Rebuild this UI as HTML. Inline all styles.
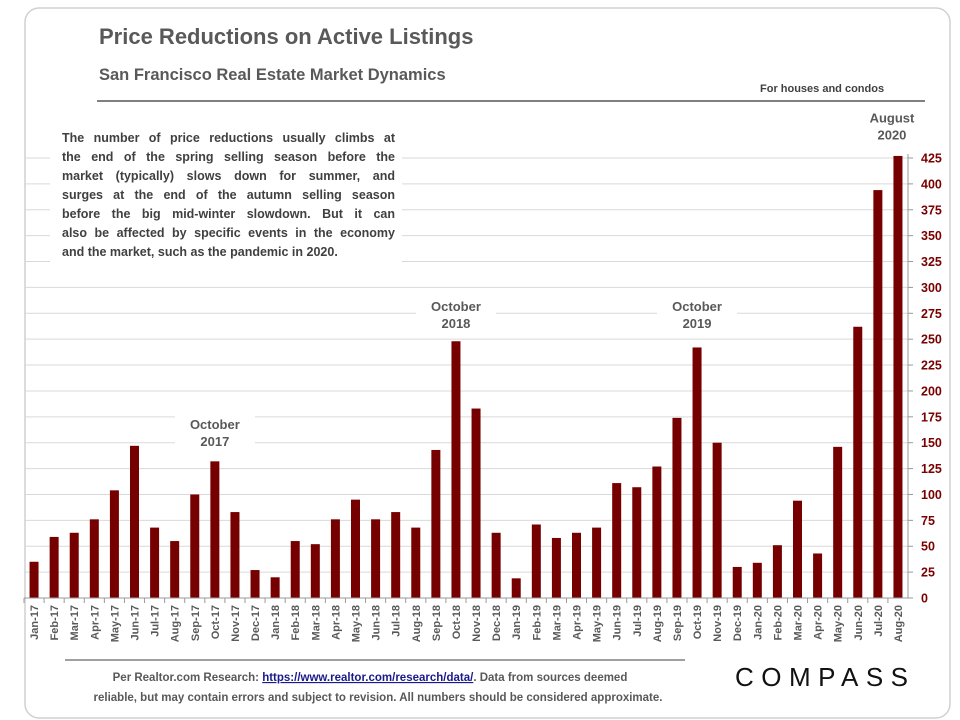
<!DOCTYPE html>
<html><head><meta charset="utf-8"><style>
body{margin:0;background:#fff;font-family:"Liberation Sans",sans-serif;}
#wrap{position:relative;width:960px;height:720px;overflow:hidden;}
#note{position:absolute;left:62px;top:129px;width:333px;font-size:12.5px;font-weight:bold;color:#404040;line-height:19px;}
#note div{text-align:justify;text-align-last:justify;white-space:nowrap;}
#note div.last{text-align-last:left;}
</style></head><body>
<div id="wrap">
<svg id="chart" width="960" height="720" style="position:absolute;left:0;top:0">
<rect x="25" y="8" width="925" height="710" rx="14" fill="none" stroke="#d0d0d0" stroke-width="1.5"/>
<text x="99" y="44" font-size="22" font-weight="bold" fill="#595959">Price Reductions on Active Listings</text>
<text x="99" y="80" font-size="16.5" font-weight="bold" fill="#595959">San Francisco Real Estate Market Dynamics</text>
<text x="760" y="92" font-size="11" font-weight="bold" fill="#404040">For houses and condos</text>
<line x1="97" y1="101" x2="925" y2="101" stroke="#808080" stroke-width="2"/>
<g id="grid"></g><g id="bars"></g><g id="axes"></g>
<rect x="50" y="123" width="352" height="142" fill="#fff"/>
<g id="annos"></g>
<line x1="65" y1="660" x2="685" y2="660" stroke="#808080" stroke-width="1.5"/>
<text x="370" y="681" font-size="11.5" font-weight="bold" fill="#595959" text-anchor="middle">Per Realtor.com Research:  <tspan fill="#1a1a8c" text-decoration="underline">https://www.realtor.com/research/data/</tspan>. Data from sources deemed</text>
<text x="378" y="701" font-size="11.5" font-weight="bold" fill="#595959" text-anchor="middle">reliable, but may contain errors and subject to revision. All numbers should be considered approximate.</text>
<text x="735" y="686" font-size="26" fill="#111" textLength="173" lengthAdjust="spacing">COMPASS</text>
</svg>
<div id="note">
<div>The number of price reductions usually climbs at</div>
<div>the end of the spring selling season before the</div>
<div>market (typically) slows down for summer, and</div>
<div>surges at the end of the autumn selling season</div>
<div>before the big mid-winter slowdown. But it can</div>
<div>also be affected by specific events in the economy</div>
<div class="last">and the market, such as the pandemic in 2020.</div>
</div>
</div>
<script>
const categories=["Jan-17","Feb-17","Mar-17","Apr-17","May-17","Jun-17","Jul-17","Aug-17","Sep-17","Oct-17","Nov-17","Dec-17","Jan-18","Feb-18","Mar-18","Apr-18","May-18","Jun-18","Jul-18","Aug-18","Sep-18","Oct-18","Nov-18","Dec-18","Jan-19","Feb-19","Mar-19","Apr-19","May-19","Jun-19","Jul-19","Aug-19","Sep-19","Oct-19","Nov-19","Dec-19","Jan-20","Feb-20","Mar-20","Apr-20","May-20","Jun-20","Jul-20","Aug-20"];
const values=[35,59,63,76,104,147,68,55,100,132,83,27,20,55,52,76,95,76,83,68,143,248,183,63,19,71,58,63,68,111,107,127,174,242,150,30,34,51,94,43,146,262,394,427];
const yTicks=[0,25,50,75,100,125,150,175,200,225,250,275,300,325,350,375,400,425];
const annotations=[{i:9,t1:"October",t2:"2017",v:172},{i:21,t1:"October",t2:"2018",v:286},{i:33,t1:"October",t2:"2019",v:286},{i:43,t1:"August",t2:"2020",v:468}];
const NS="http://www.w3.org/2000/svg";
const X0=24,X1=908,Y0=598,Y425=158;
const step=(X1-X0)/categories.length;
function xc(i){return X0+step*(i+0.5);}
function y(v){return Y0-(Y0-Y425)*v/425;}
function mk(tag,attrs,parent){const e=document.createElementNS(NS,tag);for(const k in attrs)e.setAttribute(k,attrs[k]);document.getElementById(parent).appendChild(e);return e;}
yTicks.forEach(t=>{
 if(t>0){const g=mk('line',{x1:X0,x2:X1,y1:y(t),y2:y(t),stroke:'#d9d9d9','stroke-width':1},'grid');
 
 }
 const tk=mk('line',{x1:X1,x2:X1+5,y1:y(t),y2:y(t),stroke:'#999'},'axes');
 
 
 const l=mk('text',{x:X1+13,y:y(t)+4.5,'font-size':12.5,'font-weight':'bold',fill:'#7a0000'},'axes');
 l.textContent=t;
 
 
});
values.forEach((v,i)=>{
 const b=mk('rect',{x:xc(i)-4.5,y:y(v),width:9,height:Y0-y(v),fill:'#760000'},'bars');
 
 
 const tk=mk('line',{x1:X0+step*i,x2:X0+step*i,y1:Y0,y2:Y0+5,stroke:'#999'},'axes');
 
 
 const l=mk('text',{x:0,y:0,'font-size':11,'font-weight':'bold',fill:'#595959','text-anchor':'end',transform:`translate(${xc(i)+4},${Y0+7}) rotate(-90)`},'axes');
 l.textContent=categories[i];
 
 
});
const ax=mk('line',{x1:X0,x2:X1,y1:Y0,y2:Y0,stroke:'#999'},'axes');


const ay=mk('line',{x1:X1,x2:X1,y1:Y425-4,y2:Y0,stroke:'#999'},'axes');


annotations.forEach(a=>{
 const cx=xc(a.i)-(a.i===43?6:0),ty=y(a.v);
 const bg=mk('rect',{x:cx-40,y:ty-6,width:80,height:38,fill:'#fff'},'annos');
 
 
 const t=mk('text',{x:cx,y:ty+9,'font-size':13,'font-weight':'bold',fill:'#595959','text-anchor':'middle'},'annos');
 t.textContent=a.t1;
 
 
 const t2=mk('text',{x:cx,y:ty+26,'font-size':13,'font-weight':'bold',fill:'#595959','text-anchor':'middle'},'annos');
 t2.textContent=a.t2;
 
 
});
</script>
</body></html>
